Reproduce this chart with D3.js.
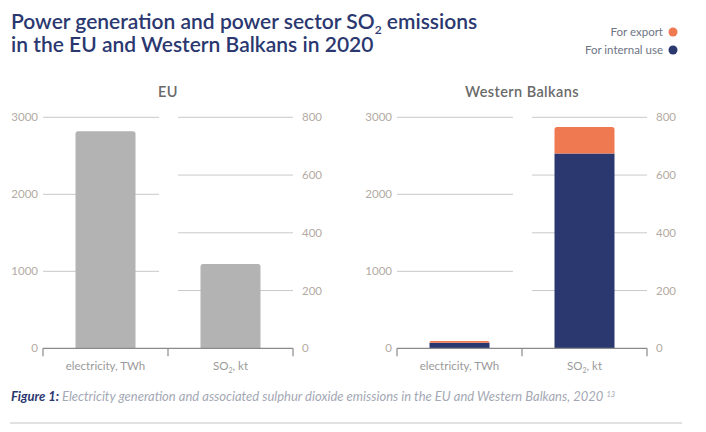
<!DOCTYPE html>
<html><head><meta charset="utf-8">
<script src="https://cdn.jsdelivr.net/npm/d3@7/dist/d3.min.js"></script>
<style>
html,body{margin:0;padding:0;background:#fff;}
svg{display:block;}
</style></head>
<body>
<svg id="chart" width="706" height="432"></svg>
<script>
// ---- data ----
const panels = ["EU", "Western Balkans"];
const categories = ["electricity", "SO2"];
const leftTicks = [0, 1000, 2000, 3000];
const rightTicks = [0, 200, 400, 600, 800];
const seriesNames = ["For export", "For internal use"];
// EU totals (single grey bar)
const euValues = [2820, 292];
// Western Balkans stacked
const wbInternal = [73, 675];
const wbExport = [21, 91];

const NAVY = "#2b3870", ORANGE = "#ef7a52", GREY = "#b3b3b3";
const svg = d3.select("#chart");

// Title
const title = svg.append("text").attr("x", 11).attr("fill", "#2b3870")
  .style("font-family", "Lato, 'Noto Sans', sans-serif").style("font-size", "21px").style("font-weight", 600);
const t1 = title.append("tspan").attr("x", 11).attr("y", 29);
t1.append("tspan").text("Power generation and power sector SO");
t1.append("tspan").attr("font-size", "12px").attr("dy", 5).text("2");
t1.append("tspan").attr("dy", -5).text(" emissions");
title.append("tspan").attr("x", 11).attr("y", 52).text("in the EU and Western Balkans in 2020");

// Legend
const legColors = [ORANGE, NAVY];
seriesNames.forEach((n, i) => {
  const y = 32 + i * 18;
  svg.append("circle").attr("cx", 673).attr("cy", y).attr("r", 4.5).attr("fill", legColors[i]);
  svg.append("text").attr("x", 663).attr("y", y + 4).attr("text-anchor", "end")
    .attr("fill", "#6f7585").style("font-family", "Lato, sans-serif").style("font-size", "11.5px").text(n);
});

const yTop = 117.3, yBot = 348.3;
const yL = d3.scaleLinear().domain([0, 3000]).range([yBot, yTop]);
const yR = d3.scaleLinear().domain([0, 800]).range([yBot, yTop]);

function drawPanel(x0, x1, name, stacks) {
  const g = svg.append("g");
  const xm = (x0 + x1) / 2;
  const x = d3.scaleBand().domain(categories).range([x0, x1]).paddingInner(0).paddingOuter(0);
  const bw = 60;
  // panel title
  g.append("text").attr("x", xm).attr("y", 97).attr("text-anchor", "middle")
    .attr("fill", "#6a6a6a").style("font-family", "Lato, sans-serif").style("font-size", "14.5px").style("font-weight", 600)
    .style("letter-spacing", "0.4px").text(name);
  // gridlines
  leftTicks.filter(d => d > 0).forEach(d => {
    g.append("line").attr("x1", x0).attr("x2", xm - 9).attr("y1", yL(d)).attr("y2", yL(d))
      .attr("stroke", "#c9c9c9").attr("stroke-width", 1);
  });
  rightTicks.filter(d => d > 0).forEach(d => {
    g.append("line").attr("x1", xm + 10).attr("x2", x1).attr("y1", yR(d)).attr("y2", yR(d))
      .attr("stroke", "#c9c9c9").attr("stroke-width", 1);
  });
  // tick labels
  const tf = "Lato, 'Noto Sans', sans-serif";
  leftTicks.forEach(d => {
    g.append("text").attr("x", x0 - 5).attr("y", yL(d) + 4).attr("text-anchor", "end")
      .attr("fill", "#b3aba3").style("font-family", tf).style("font-size", "11.5px").text(d);
  });
  rightTicks.forEach(d => {
    g.append("text").attr("x", x1 + 9).attr("y", yR(d) + 4).attr("text-anchor", "start")
      .attr("fill", "#b3aba3").style("font-family", tf).style("font-size", "11.5px").text(d);
  });
  // bars
  stacks.forEach((segs, i) => {
    const cat = categories[i];
    const sc = i === 0 ? yL : yR;
    const cx = x(cat) + x.bandwidth() / 2;
    let base = 0;
    segs.forEach((s, j) => {
      const top = base + s.v;
      const isTop = j === segs.length - 1;
      const yt = sc(top), yb = sc(base);
      const h = yb - yt;
      const r = isTop ? Math.min(2.5, h) : 0;
      const xl = cx - bw / 2, xr = cx + bw / 2;
      const p = `M${xl},${yb}V${yt + r}Q${xl},${yt} ${xl + r},${yt}H${xr - r}Q${xr},${yt} ${xr},${yt + r}V${yb}Z`;
      g.append("path").attr("d", p).attr("fill", s.c);
      base = top;
    });
  });
  // baseline axis
  g.append("line").attr("x1", x0).attr("x2", x1).attr("y1", yBot).attr("y2", yBot)
    .attr("stroke", "#8a8a8a").attr("stroke-width", 1.2);
  [x0, xm, x1].forEach(xx => {
    g.append("line").attr("x1", xx).attr("x2", xx).attr("y1", yBot).attr("y2", yBot + 8)
      .attr("stroke", "#8a8a8a").attr("stroke-width", 1.2);
  });
  // category labels
  categories.forEach((c, i) => {
    const cx = x(c) + x.bandwidth() / 2;
    const t = g.append("text").attr("x", cx).attr("y", 370).attr("text-anchor", "middle")
      .attr("fill", "#9a9a9a").style("font-family", tf).style("font-size", "11.5px");
    if (c === "electricity") t.text("electricity, TWh");
    else {
      t.append("tspan").text("SO");
      t.append("tspan").attr("font-size", "7px").attr("dy", 3).text("2");
      t.append("tspan").attr("dy", -3).text(", kt");
    }
  });
}

drawPanel(43, 293, panels[0], euValues.map(v => [{v, c: GREY}]));
drawPanel(397, 647, panels[1], wbInternal.map((v, i) => [{v, c: NAVY}, {v: wbExport[i], c: ORANGE}]));

// caption
const cap = svg.append("text").attr("x", 11).attr("y", 401)
  .style("font-family", "Lato, sans-serif").style("font-size", "13px").style("font-style", "italic");
cap.append("tspan").attr("fill", "#2b3870").style("font-weight", 700).text("Figure 1: ");
cap.append("tspan").attr("fill", "#a4a8b4").text("Electricity generation and associated sulphur dioxide emissions in the EU and Western Balkans, 2020 ");
cap.append("tspan").attr("fill", "#a4a8b4").attr("font-size", "7.5px").attr("dy", -4).text("13");

svg.append("line").attr("x1", 10).attr("x2", 682).attr("y1", 423).attr("y2", 423)
  .attr("stroke", "#c4c4c4").attr("stroke-width", 1);
</script>
</body></html>
